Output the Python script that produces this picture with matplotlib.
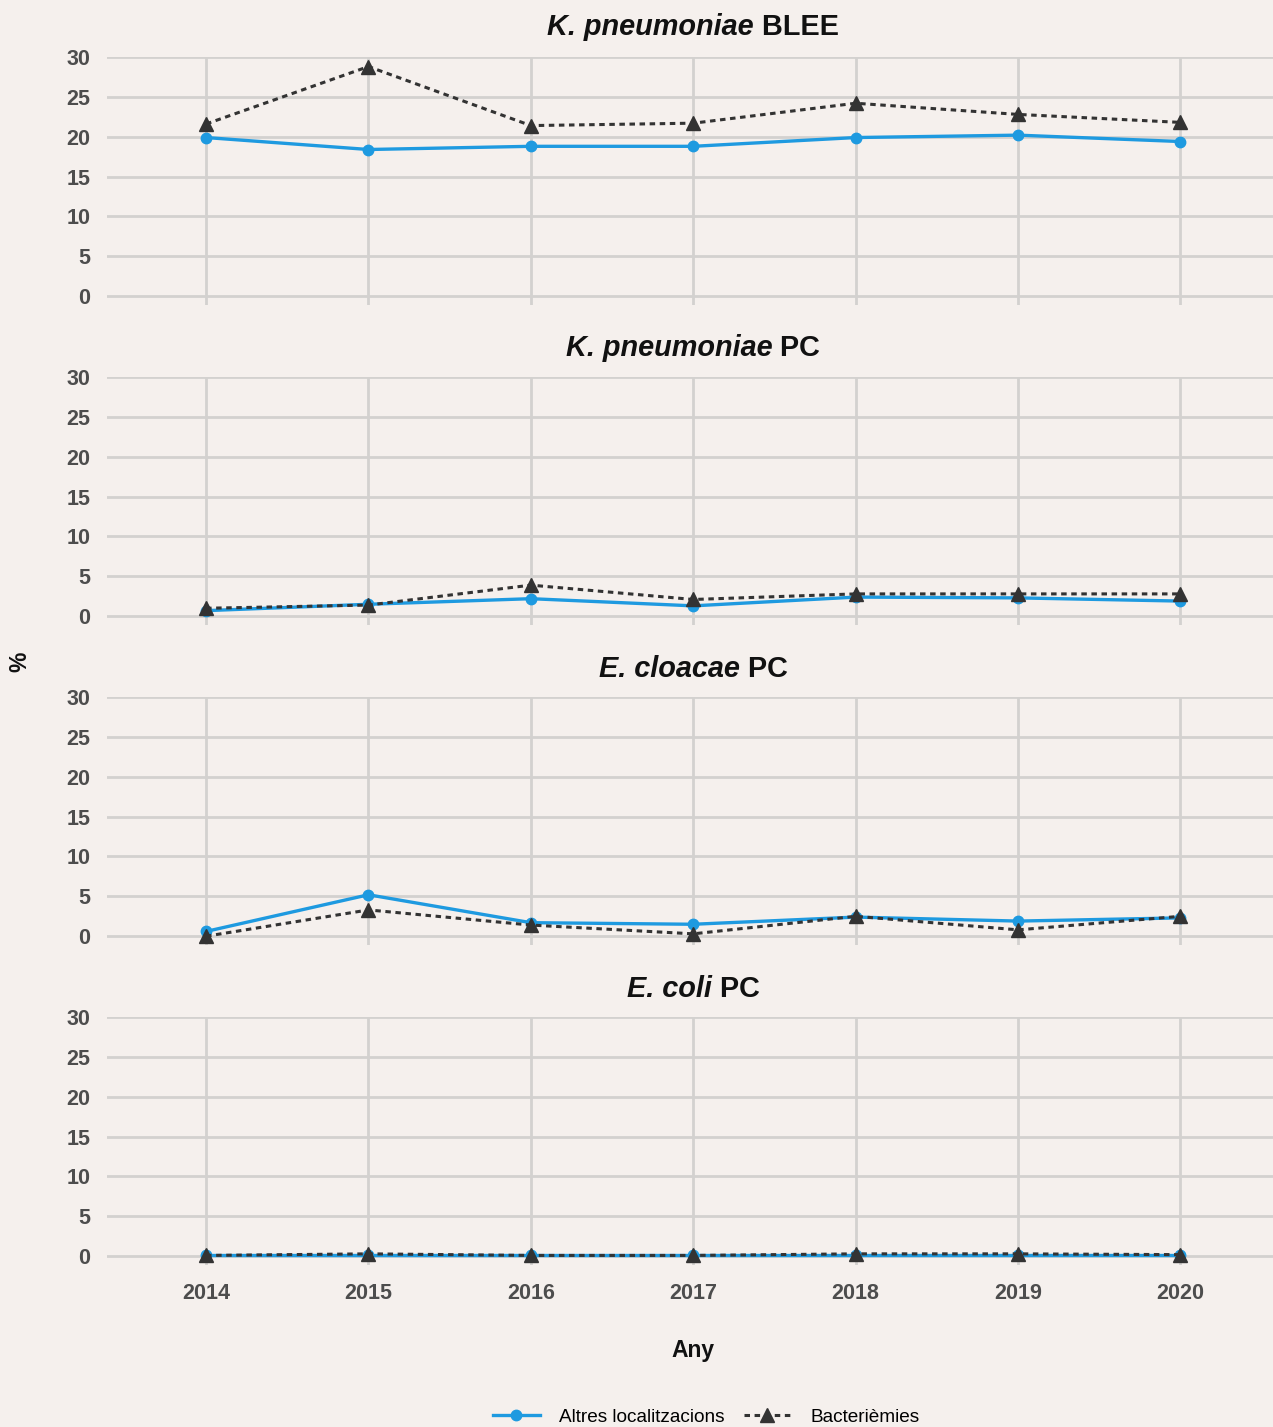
import numpy as np
import matplotlib
matplotlib.use("Agg")
import matplotlib.pyplot as plt
from matplotlib.lines import Line2D

plt.rcParams["font.family"] = ["Liberation Sans", "DejaVu Sans"]

years = [2014, 2015, 2016, 2017, 2018, 2019, 2020]

titles_italic = ["K. pneumoniae", "K. pneumoniae", "E. cloacae", "E. coli"]
titles_plain = ["BLEE", "PC", "PC", "PC"]

altres = [
    [19.9, 18.4, 18.8, 18.8, 19.9, 20.2, 19.4],
    [0.7, 1.5, 2.2, 1.3, 2.4, 2.3, 1.9],
    [0.6, 5.2, 1.7, 1.5, 2.4, 1.9, 2.3],
    [0.1, 0.1, 0.1, 0.1, 0.1, 0.1, 0.1],
]
bacteriemies = [
    [21.6, 28.8, 21.4, 21.7, 24.2, 22.8, 21.8],
    [1.0, 1.4, 3.9, 2.1, 2.8, 2.8, 2.8],
    [0.0, 3.3, 1.4, 0.3, 2.5, 0.8, 2.5],
    [0.1, 0.3, 0.1, 0.1, 0.3, 0.3, 0.2],
]

y_ticks = [0, 5, 10, 15, 20, 25, 30]

bg = "#F5F0ED"
blue = "#1E9AE0"
dark = "#333333"
grid_col = "#D3D1CF"
tick_col = "#4D4D4D"

W, H = 1273, 1427
fig = plt.figure(figsize=(W / 100, H / 100), dpi=100, facecolor=bg)

tops = [57, 377, 697, 1017]
panel_h = 248
left = 107

axes = []
for i in range(4):
    ax = fig.add_axes([left / W, 1 - (tops[i] + panel_h) / H, (W - left) / W, panel_h / H])
    ax.set_facecolor(bg)
    for s in ax.spines.values():
        s.set_visible(False)
    ax.set_xlim(2013.39, 2020.57)
    ax.set_ylim(-1.1, 30)
    ax.set_yticks(y_ticks)
    ax.set_xticks(years)
    ax.grid(True, color=grid_col, linewidth=2)
    ax.set_axisbelow(True)
    ax.tick_params(length=0, labelsize=15.5, labelcolor=tick_col, pad=12)
    for lab in ax.get_yticklabels():
        lab.set_fontweight("bold")
    if i < 3:
        ax.set_xticklabels([])
    else:
        ax.tick_params(axis="x", pad=13)
        for lab in ax.get_xticklabels():
            lab.set_fontweight("bold")

    ax.plot(years, altres[i], color=blue, linewidth=2.4, marker="o",
            markersize=7.5, clip_on=False, zorder=3)
    ax.plot(years, bacteriemies[i], color=dark, linewidth=2.2,
            linestyle=(0, (1.8, 1.5)), marker="^", markersize=10,
            clip_on=False, zorder=4)
    axes.append(ax)

# titles with mixed italic/bold parts, centred together
fig.canvas.draw()
renderer = fig.canvas.get_renderer()
title_y = [27, 348, 669, 989]
for i in range(4):
    y = 1 - title_y[i] / H
    t1 = fig.text(0, y, titles_italic[i], fontsize=20.8, fontweight="bold",
                  fontstyle="italic", color="#111111", va="center")
    t2 = fig.text(0, y, " " + titles_plain[i], fontsize=20.8, fontweight="bold",
                  color="#111111", va="center")
    w1 = t1.get_window_extent(renderer).width
    w2 = t2.get_window_extent(renderer).width
    cx = 693
    x0 = cx - (w1 + w2) / 2
    t1.set_x(x0 / W)
    t2.set_x((x0 + w1) / W)

fig.text(20 / W, 1 - 662 / H, "%", rotation=90, fontsize=16.5, fontweight="bold",
         color="#111111", ha="center", va="center")
fig.text(693 / W, 1 - 1350 / H, "Any", fontsize=16.5, fontweight="bold",
         color="#111111", ha="center", va="center")

handles = [
    Line2D([], [], color=blue, linewidth=2.4, marker="o", markersize=7.5),
    Line2D([], [], color=dark, linewidth=2.2, linestyle=(0, (1.8, 1.5)),
           marker="^", markersize=10),
]
fig.legend(handles, ["Altres localitzacions", "Bacterièmies"], ncol=2,
           loc="center", bbox_to_anchor=(706 / W, 1 - 1417 / H), frameon=False,
           fontsize=13.7, handlelength=2.5, columnspacing=1.0, handletextpad=1.0)

fig.savefig("out.png", dpi=100, facecolor=bg)
